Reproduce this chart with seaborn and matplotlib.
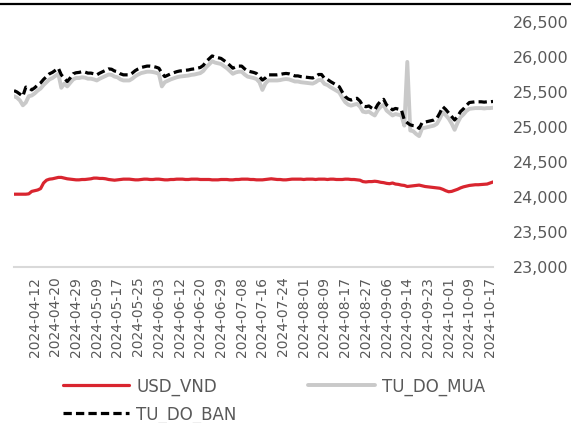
"""
USD/VND official rate vs free-market buy/sell rates, Apr-Oct 2024.
"""

import matplotlib
matplotlib.use("Agg")

import matplotlib.pyplot as plt
import numpy as np
import pandas as pd
import seaborn as sns
from matplotlib.lines import Line2D

# ── Data ────────────────────────────────────────────────────────
# trading days (Mon-Sat) with the skipped days removed
START_DATE = "2024-04-04"
END_DATE = "2024-10-18"
SKIPPED_DAYS = ["2024-04-30", "2024-05-01", "2024-06-08", "2024-06-22",
                "2024-08-24", "2024-09-02", "2024-09-03"]

TICK_LABELS = [
    "2024-04-12", "2024-04-20", "2024-04-29", "2024-05-09", "2024-05-17",
    "2024-05-25", "2024-06-03", "2024-06-12", "2024-06-20", "2024-06-29",
    "2024-07-08", "2024-07-16", "2024-07-24", "2024-08-01", "2024-08-09",
    "2024-08-17", "2024-08-27", "2024-09-06", "2024-09-14", "2024-09-23",
    "2024-10-01", "2024-10-09", "2024-10-17",
]

USD_VND = [
    24040, 24040, 24040, 24040, 24040, 24045, 24080, 24090, 24100, 24120,
    24200, 24240, 24255, 24260, 24270, 24280, 24280, 24270, 24260, 24255,
    24250, 24245, 24245, 24250, 24250, 24255, 24260, 24270, 24270, 24265,
    24265, 24260, 24250, 24245, 24240, 24245, 24250, 24255, 24255, 24255,
    24250, 24245, 24245, 24250, 24255, 24255, 24250, 24250, 24255, 24255,
    24250, 24245, 24245, 24250, 24250, 24255, 24255, 24255, 24250, 24250,
    24255, 24255, 24255, 24250, 24250, 24250, 24250, 24245, 24245, 24245,
    24250, 24250, 24250, 24245, 24245, 24250, 24250, 24255, 24255, 24255,
    24250, 24250, 24245, 24245, 24245, 24250, 24255, 24260, 24255, 24250,
    24250, 24245, 24245, 24250, 24255, 24255, 24255, 24255, 24250, 24255,
    24255, 24255, 24250, 24255, 24255, 24255, 24250, 24255, 24255, 24250,
    24250, 24250, 24255, 24255, 24250, 24250, 24245, 24240, 24220, 24215,
    24220, 24220, 24225, 24220, 24210, 24205, 24195, 24190, 24200, 24185,
    24180, 24170, 24165, 24150, 24155, 24160, 24165, 24170, 24160, 24150,
    24145, 24140, 24135, 24130, 24125, 24110, 24090, 24075, 24080, 24095,
    24110, 24130, 24145, 24155, 24165, 24170, 24175, 24175, 24178, 24180,
    24185, 24200, 24215,
]

TU_DO_MUA = [
    25440, 25420, 25380, 25310, 25350, 25440, 25450, 25480, 25520, 25550,
    25600, 25640, 25680, 25700, 25730, 25760, 25560, 25620, 25580, 25630,
    25680, 25700, 25700, 25710, 25705, 25690, 25690, 25680, 25665, 25690,
    25710, 25730, 25750, 25745, 25720, 25710, 25680, 25665, 25665, 25665,
    25690, 25725, 25750, 25770, 25780, 25790, 25790, 25785, 25775, 25760,
    25580, 25640, 25660, 25680, 25695, 25710, 25720, 25725, 25730, 25735,
    25745, 25750, 25760, 25770, 25800, 25855, 25895, 25940, 25920, 25910,
    25900, 25870, 25840, 25800, 25760, 25780, 25790, 25790, 25750, 25720,
    25710, 25700, 25685, 25640, 25530, 25620, 25665, 25665, 25665, 25665,
    25670, 25680, 25685, 25680, 25665, 25650, 25650, 25640, 25635, 25630,
    25625, 25620, 25640, 25670, 25670, 25615, 25600, 25570, 25545, 25520,
    25495, 25420, 25355, 25320, 25305, 25320, 25330, 25290, 25220, 25210,
    25220, 25190, 25165, 25240, 25290, 25315, 25235, 25200, 25165, 25185,
    25175, 25165, 25020, 25930, 24950, 24940, 24900, 24870, 24980, 24990,
    25000, 25010, 25020, 25045, 25120, 25210, 25170, 25120, 25050, 24960,
    25060, 25140, 25180, 25230, 25260, 25265, 25270, 25270, 25270, 25265,
    25270, 25270, 25275,
]

TU_DO_BAN = [
    25520, 25500, 25470, 25440, 25570, 25560, 25530, 25560, 25600, 25630,
    25680, 25720, 25760, 25780, 25810, 25840, 25745, 25700, 25650, 25700,
    25760, 25775, 25780, 25790, 25785, 25770, 25770, 25760, 25745, 25770,
    25790, 25810, 25830, 25825, 25800, 25790, 25760, 25745, 25745, 25745,
    25770, 25805, 25830, 25850, 25860, 25870, 25870, 25865, 25855, 25840,
    25770, 25720, 25740, 25760, 25775, 25790, 25800, 25805, 25810, 25815,
    25825, 25830, 25840, 25850, 25880, 25935, 25975, 26015, 26000, 25990,
    25980, 25950, 25920, 25880, 25840, 25860, 25870, 25870, 25830, 25800,
    25790, 25780, 25765, 25720, 25670, 25700, 25745, 25745, 25745, 25745,
    25750, 25760, 25765, 25760, 25745, 25730, 25730, 25720, 25715, 25710,
    25705, 25700, 25720, 25750, 25750, 25695, 25680, 25650, 25625, 25600,
    25575, 25500, 25435, 25400, 25385, 25400, 25410, 25370, 25300, 25290,
    25300, 25270, 25245, 25320, 25370, 25395, 25315, 25280, 25245, 25265,
    25255, 25245, 25100, 25060, 25030, 25020, 25015, 24980, 25060, 25070,
    25080, 25090, 25100, 25125, 25200, 25290, 25250, 25200, 25150, 25100,
    25150, 25220, 25260, 25310, 25350, 25355, 25360, 25360, 25360, 25355,
    25360, 25360, 25365,
]

Y_TICKS = [23000, 23500, 24000, 24500, 25000, 25500, 26000, 26500]

RED = "#d9252f"
LIGHT_GRAY = "#c9c9c9"
TEXT_GRAY = "#595959"


def build_frame() -> pd.DataFrame:
    dates = pd.bdate_range(START_DATE, END_DATE, freq="C",
                           weekmask="Mon Tue Wed Thu Fri Sat",
                           holidays=SKIPPED_DAYS)
    df = pd.DataFrame({
        "date": dates.strftime("%Y-%m-%d"),
        "USD_VND": USD_VND,
        "TU_DO_MUA": TU_DO_MUA,
        "TU_DO_BAN": TU_DO_BAN,
    })
    df["pos"] = np.arange(len(df))
    return df


def plot_rates(df: pd.DataFrame, filepath: str = "out.png") -> None:
    sns.set_theme(style="white")
    plt.rcParams["font.family"] = ["DejaVu Sans"]

    fig = plt.figure(figsize=(5.71, 4.23), dpi=100)
    ax = fig.add_axes([0.0245, 0.3688, 0.8390, 0.5792])

    sns.lineplot(data=df, x="pos", y="TU_DO_MUA", ax=ax, color=LIGHT_GRAY,
                 linewidth=2.8, label="TU_DO_MUA")
    sns.lineplot(data=df, x="pos", y="TU_DO_BAN", ax=ax, color="black",
                 linewidth=2.3, linestyle=(0, (2.6, 1.3)), label="TU_DO_BAN")
    sns.lineplot(data=df, x="pos", y="USD_VND", ax=ax, color=RED,
                 linewidth=2.3, label="USD_VND")

    ax.set_xlim(df["pos"].iloc[0], df["pos"].iloc[-1])
    ax.set_ylim(Y_TICKS[0], Y_TICKS[-1])

    # y axis on the right, no tick marks
    ax.yaxis.tick_right()
    ax.set_yticks(Y_TICKS)
    ax.set_yticklabels([f"{v:,}" for v in Y_TICKS])
    ax.tick_params(axis="y", length=0, pad=14, labelsize=11.5,
                   labelcolor=TEXT_GRAY)

    tick_pos = [df.index[df["date"] == lbl][0] for lbl in TICK_LABELS]
    ax.set_xticks(tick_pos)
    ax.set_xticklabels(TICK_LABELS, rotation=90)
    ax.tick_params(axis="x", length=0, pad=7, labelsize=10,
                   labelcolor=TEXT_GRAY)

    ax.set_xlabel("")
    ax.set_ylabel("")
    for side in ("top", "left", "right"):
        ax.spines[side].set_visible(False)
    ax.spines["bottom"].set_color("#d9d9d9")
    ax.spines["bottom"].set_linewidth(1.5)

    # legend: USD_VND / TU_DO_MUA on row 1, TU_DO_BAN on row 2
    handles, labels = ax.get_legend_handles_labels()
    order = [labels.index(n) for n in ("USD_VND", "TU_DO_BAN", "TU_DO_MUA")]
    ax.get_legend().remove()
    fig.legend([handles[i] for i in order], [labels[i] for i in order],
               ncol=2, loc="upper left", bbox_to_anchor=(0.11, 0.108),
               frameon=False, fontsize=12, handlelength=4.0,
               handletextpad=0.4, columnspacing=4.3, labelspacing=0.58,
               borderpad=0, borderaxespad=0, labelcolor=TEXT_GRAY)

    # thin black rule along the top edge
    fig.add_artist(Line2D([0, 1], [0.99, 0.99], color="black",
                          linewidth=1.6, transform=fig.transFigure))

    fig.savefig(filepath, dpi=100)
    plt.close(fig)


if __name__ == "__main__":
    plot_rates(build_frame())
